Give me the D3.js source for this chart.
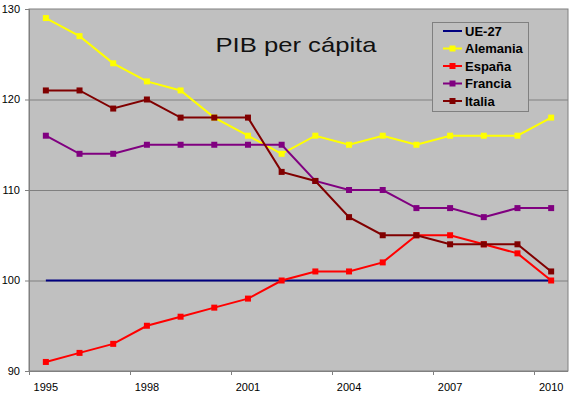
<!DOCTYPE html>
<html><head><meta charset="utf-8">
<script src="https://cdn.jsdelivr.net/npm/d3@7"></script>
<style>body{margin:0;background:#fff;}svg{display:block;font-family:Arial,"Liberation Sans",sans-serif;}</style>
</head><body><svg id="c" width="575" height="397"></svg>
<script>
const years = [1995,1996,1997,1998,1999,2000,2001,2002,2003,2004,2005,2006,2007,2008,2009,2010];
const ue27     = [100,100,100,100,100,100,100,100,100,100,100,100,100,100,100,100];
const alemania = [129,127,124,122,121,118,116,114,116,115,116,115,116,116,116,118];
const espana   = [91,92,93,95,96,97,98,100,101,101,102,105,105,104,103,100];
const francia  = [116,114,114,115,115,115,115,115,111,110,110,108,108,107,108,108];
const italia   = [121,121,119,120,118,118,118,112,111,107,105,105,104,104,104,101];
const yTicks = [90,100,110,120,130];
const xTickLabels = [1995,1998,2001,2004,2007,2010];
const seriesNames = ["UE-27","Alemania","España","Francia","Italia"];
const seriesColors = ["#000080","#FFFF00","#FF0000","#800080","#800000"];
const seriesValues = [ue27, alemania, espana, francia, italia];
const seriesMarkers = [false,true,true,true,true];

const svg = d3.select("#c");
const L=29, R=568, T=9, B=371;
const x = d3.scaleBand().domain(years).range([L,R]);
const y = d3.scaleLinear().domain([90,130]).range([B,T]);

svg.append("rect").attr("x",L).attr("y",T).attr("width",R-L).attr("height",B-T)
  .attr("fill","#C0C0C0").attr("stroke","#808080").attr("stroke-width",1);

// gridlines
svg.append("g").selectAll("line").data(yTicks.filter(d=>d>90&&d<130)).join("line")
  .attr("x1",L).attr("x2",R).attr("y1",d=>y(d)+0.5).attr("y2",d=>y(d)+0.5)
  .attr("stroke","#808080").attr("stroke-width",1);

// y axis
const ya = svg.append("g");
ya.append("line").attr("x1",L+0.5).attr("x2",L+0.5).attr("y1",T).attr("y2",B).attr("stroke","#808080");
ya.selectAll(".t").data(yTicks).join("line").attr("x1",L-4).attr("x2",L).attr("y1",d=>y(d)+0.5).attr("y2",d=>y(d)+0.5).attr("stroke","#808080");
ya.selectAll("text").data(yTicks).join("text").attr("x",L-9).attr("y",d=>y(d)).attr("dy","0.35em")
  .attr("text-anchor","end").attr("font-size",11).text(d=>d);

// x axis
const xa = svg.append("g");
xa.append("line").attr("x1",L).attr("x2",R).attr("y1",B+0.5).attr("y2",B+0.5).attr("stroke","#808080");
const tickYears = years.filter((d,i)=>i%3===0);
xa.selectAll(".tk").data(tickYears).join("line").attr("class","tk")
  .attr("x1",d=>Math.round(x(d))+0.5).attr("x2",d=>Math.round(x(d))+0.5).attr("y1",B).attr("y2",B+4).attr("stroke","#808080");
xa.selectAll("text").data(xTickLabels).join("text").attr("x",d=>x(d)+x.bandwidth()/2).attr("y",B+20)
  .attr("text-anchor","middle").attr("font-size",11).text(d=>d);

// lines
const line = d3.line().x((d,i)=>x(years[i])+x.bandwidth()/2).y(d=>y(d));
seriesValues.forEach((vals,si)=>{
  svg.append("path").datum(vals).attr("d",line).attr("fill","none")
    .attr("stroke",seriesColors[si]).attr("stroke-width",2);
  if(seriesMarkers[si]){
    svg.append("g").selectAll("rect").data(vals).join("rect")
      .attr("x",(d,i)=>x(years[i])+x.bandwidth()/2-3).attr("y",d=>y(d)-3)
      .attr("width",6).attr("height",6).attr("fill",seriesColors[si]);
  }
});

// title
svg.append("text").attr("x",296).attr("y",52).attr("text-anchor","middle")
  .attr("font-size",21).attr("fill","#111").attr("textLength",161).attr("lengthAdjust","spacingAndGlyphs")
  .text("PIB per cápita");

// legend
const lg = svg.append("g");
lg.append("rect").attr("x",432.5).attr("y",22.5).attr("width",96).attr("height",89)
  .attr("fill","#C0C0C0").attr("stroke","#808080");
seriesNames.forEach((n,i)=>{
  const yy = 31 + i*17.5;
  lg.append("line").attr("x1",443).attr("x2",462).attr("y1",yy).attr("y2",yy)
    .attr("stroke",seriesColors[i]).attr("stroke-width",2);
  if(seriesMarkers[i]) lg.append("rect").attr("x",449.5).attr("y",yy-3).attr("width",6).attr("height",6).attr("fill",seriesColors[i]);
  lg.append("text").attr("x",465).attr("y",yy).attr("dy","0.35em").attr("font-size",13)
    .attr("font-weight","bold").text(n);
});
</script></body></html>
